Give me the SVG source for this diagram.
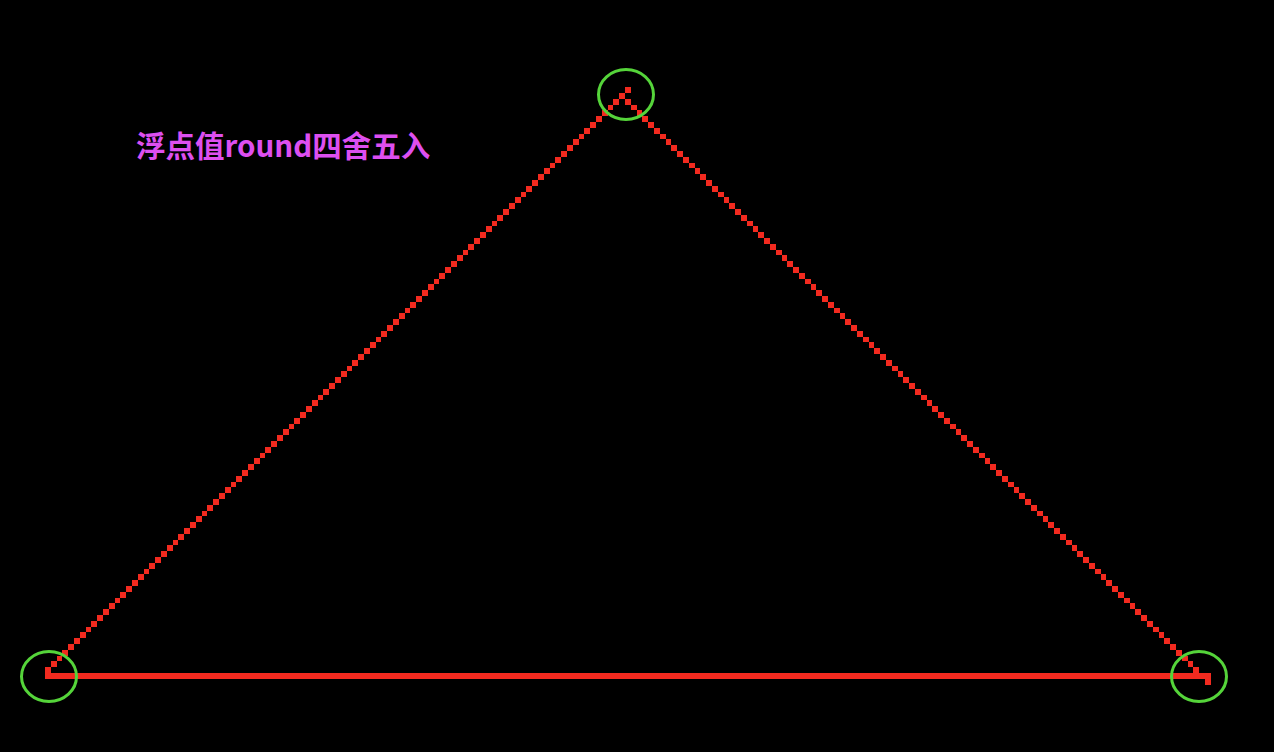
<svg xmlns="http://www.w3.org/2000/svg" width="1274" height="752" viewBox="0 0 1274 752">
<style>
.px{fill:#f22a1f}
.ring{fill:none;stroke:#55d43a;stroke-width:3}
.lbl{font-family:"Noto Sans CJK SC","Noto Sans",sans-serif;font-size:29.5px;font-weight:bold;fill:#dd4ff0}
</style>
<rect width="1274" height="752" fill="#000"/>
<g id="connectors" transform="translate(45,673) scale(5.8)" shape-rendering="crispEdges">
<path id="left-edge" class="px" d="M0,-1h1v1h-1z
m1,-1h1v1h-1zm1,-1h1v1h-1zm1,-1h1v1h-1zm1,-1h1v1h-1zm1,-1h1v1h-1zm1,-1h1v1h-1zm1,-1h1v1h-1zm1,-1h1v1h-1zm1,-1h1v1h-1zm1,-1h1v1h-1z
m1,-1h1v1h-1zm1,-1h1v1h-1zm1,-1h1v1h-1zm1,-1h1v1h-1zm1,-1h1v1h-1zm1,-1h1v1h-1zm1,-1h1v1h-1zm1,-1h1v1h-1zm1,-1h1v1h-1zm1,-1h1v1h-1z
m1,-1h1v1h-1zm1,-1h1v1h-1zm1,-1h1v1h-1zm1,-1h1v1h-1zm1,-1h1v1h-1zm1,-1h1v1h-1zm1,-1h1v1h-1zm1,-1h1v1h-1zm1,-1h1v1h-1zm1,-1h1v1h-1z
m1,-1h1v1h-1zm1,-1h1v1h-1zm1,-1h1v1h-1zm1,-1h1v1h-1zm1,-1h1v1h-1zm1,-1h1v1h-1zm1,-1h1v1h-1zm1,-1h1v1h-1zm1,-1h1v1h-1zm1,-1h1v1h-1z
m1,-1h1v1h-1zm1,-1h1v1h-1zm1,-1h1v1h-1zm1,-1h1v1h-1zm1,-1h1v1h-1zm1,-1h1v1h-1zm1,-1h1v1h-1zm1,-1h1v1h-1zm1,-1h1v1h-1zm1,-1h1v1h-1z
m1,-1h1v1h-1zm1,-1h1v1h-1zm1,-1h1v1h-1zm1,-1h1v1h-1zm1,-1h1v1h-1zm1,-1h1v1h-1zm1,-1h1v1h-1zm1,-1h1v1h-1zm1,-1h1v1h-1zm1,-1h1v1h-1z
m1,-1h1v1h-1zm1,-1h1v1h-1zm1,-1h1v1h-1zm1,-1h1v1h-1zm1,-1h1v1h-1zm1,-1h1v1h-1zm1,-1h1v1h-1zm1,-1h1v1h-1zm1,-1h1v1h-1zm1,-1h1v1h-1z
m1,-1h1v1h-1zm1,-1h1v1h-1zm1,-1h1v1h-1zm1,-1h1v1h-1zm1,-1h1v1h-1zm1,-1h1v1h-1zm1,-1h1v1h-1zm1,-1h1v1h-1zm1,-1h1v1h-1zm1,-1h1v1h-1z
m1,-1h1v1h-1zm1,-1h1v1h-1zm1,-1h1v1h-1zm1,-1h1v1h-1zm1,-1h1v1h-1zm1,-1h1v1h-1zm1,-1h1v1h-1zm1,-1h1v1h-1zm1,-1h1v1h-1zm1,-1h1v1h-1z
m1,-1h1v1h-1zm1,-1h1v1h-1zm1,-1h1v1h-1zm1,-1h1v1h-1zm1,-1h1v1h-1zm1,-1h1v1h-1zm1,-1h1v1h-1zm1,-1h1v1h-1zm1,-1h1v1h-1zm1,-1h1v1h-1z"/>
<path id="right-edge" class="px" d="M100,-99h1v1h-1z
m1,1h1v1h-1zm1,1h1v1h-1zm1,1h1v1h-1zm1,1h1v1h-1zm1,1h1v1h-1zm1,1h1v1h-1zm1,1h1v1h-1zm1,1h1v1h-1zm1,1h1v1h-1zm1,1h1v1h-1z
m1,1h1v1h-1zm1,1h1v1h-1zm1,1h1v1h-1zm1,1h1v1h-1zm1,1h1v1h-1zm1,1h1v1h-1zm1,1h1v1h-1zm1,1h1v1h-1zm1,1h1v1h-1zm1,1h1v1h-1z
m1,1h1v1h-1zm1,1h1v1h-1zm1,1h1v1h-1zm1,1h1v1h-1zm1,1h1v1h-1zm1,1h1v1h-1zm1,1h1v1h-1zm1,1h1v1h-1zm1,1h1v1h-1zm1,1h1v1h-1z
m1,1h1v1h-1zm1,1h1v1h-1zm1,1h1v1h-1zm1,1h1v1h-1zm1,1h1v1h-1zm1,1h1v1h-1zm1,1h1v1h-1zm1,1h1v1h-1zm1,1h1v1h-1zm1,1h1v1h-1z
m1,1h1v1h-1zm1,1h1v1h-1zm1,1h1v1h-1zm1,1h1v1h-1zm1,1h1v1h-1zm1,1h1v1h-1zm1,1h1v1h-1zm1,1h1v1h-1zm1,1h1v1h-1zm1,1h1v1h-1z
m1,1h1v1h-1zm1,1h1v1h-1zm1,1h1v1h-1zm1,1h1v1h-1zm1,1h1v1h-1zm1,1h1v1h-1zm1,1h1v1h-1zm1,1h1v1h-1zm1,1h1v1h-1zm1,1h1v1h-1z
m1,1h1v1h-1zm1,1h1v1h-1zm1,1h1v1h-1zm1,1h1v1h-1zm1,1h1v1h-1zm1,1h1v1h-1zm1,1h1v1h-1zm1,1h1v1h-1zm1,1h1v1h-1zm1,1h1v1h-1z
m1,1h1v1h-1zm1,1h1v1h-1zm1,1h1v1h-1zm1,1h1v1h-1zm1,1h1v1h-1zm1,1h1v1h-1zm1,1h1v1h-1zm1,1h1v1h-1zm1,1h1v1h-1zm1,1h1v1h-1z
m1,1h1v1h-1zm1,1h1v1h-1zm1,1h1v1h-1zm1,1h1v1h-1zm1,1h1v1h-1zm1,1h1v1h-1zm1,1h1v1h-1zm1,1h1v1h-1zm1,1h1v1h-1zm1,1h1v1h-1z
m1,1h1v1h-1zm1,1h1v1h-1zm1,1h1v1h-1zm1,1h1v1h-1zm1,1h1v1h-1zm1,1h1v1h-1zm1,1h1v1h-1zm1,1h1v1h-1zm1,1h1v1h-1zm1,1h1v1h-1z"/>
<rect id="bottom-edge" class="px" x="0" y="0" width="201" height="1"/>
</g>
<g id="vertex-top"><ellipse class="ring" cx="626" cy="94.5" rx="27.5" ry="25"/></g>
<g id="vertex-left"><ellipse class="ring" cx="49" cy="676.5" rx="27.5" ry="25"/></g>
<g id="vertex-right"><ellipse class="ring" cx="1199" cy="676.5" rx="27.5" ry="25"/></g>
<g id="label"><text class="lbl" x="136" y="157">浮点值round四舍五入</text></g>
</svg>
